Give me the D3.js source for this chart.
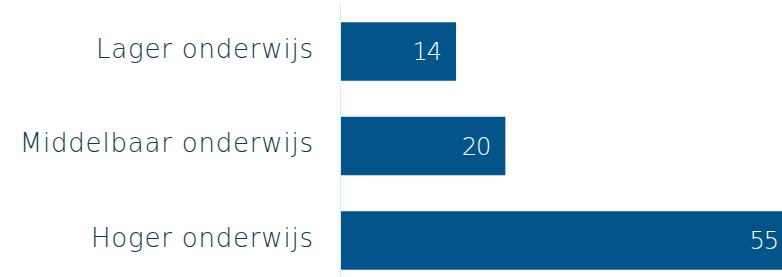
<!DOCTYPE html>
<html>
<head>
<meta charset="utf-8">
<script src="https://cdn.jsdelivr.net/npm/d3@7"></script>
<style>
  body { margin: 0; background: #fff; }
  svg { display: block; }
</style>
</head>
<body>
<div id="chart"></div>
<script>
var width = 782,
    height = 277;

var categories = ["Lager onderwijs", "Middelbaar onderwijs", "Hoger onderwijs"];
var values = [14, 20, 55];

var left = 341;

var x = d3.scaleLinear()
    .domain([0, 55])
    .range([left, left + 452]);

var y = d3.scaleBand()
    .domain(categories)
    .range([8, 284])
    .paddingInner(0.381)
    .paddingOuter(0.151);

var svg = d3.select("#chart").append("svg")
    .attr("width", width)
    .attr("height", height);

var data = categories.map(function(c, i) { return { cat: c, val: values[i] }; });

svg.selectAll(".bar")
    .data(data)
  .enter().append("rect")
    .attr("class", "bar")
    .attr("x", x(0))
    .attr("y", function(d) { return y(d.cat); })
    .attr("width", function(d) { return x(d.val) - x(0); })
    .attr("height", y.bandwidth())
    .attr("fill", "#02548a");

// vertical axis line
svg.append("line")
    .attr("x1", left - 0.5).attr("x2", left - 0.5)
    .attr("y1", 4).attr("y2", height)
    .attr("stroke", "#cdeef3")
    .attr("stroke-width", 1);

svg.selectAll(".cat")
    .data(data)
  .enter().append("text")
    .attr("class", "cat")
    .attr("x", left - 28 + 0.8)
    .attr("y", function(d) { return y(d.cat) + y.bandwidth() / 2; })
    .attr("dy", "0.24em")
    .attr("text-anchor", "end")
    .style("font-family", "'DejaVu Sans', sans-serif")
    .style("font-weight", 200)
    .style("font-size", "26px")
    .style("letter-spacing", "0.8px")
    .style("fill", "#0f3d4a")
    .text(function(d) { return d.cat; });

svg.selectAll(".val")
    .data(data)
  .enter().append("text")
    .attr("class", "val")
    .attr("x", function(d) { return x(d.val) - 16 + 1; })
    .attr("y", function(d) { return y(d.cat) + y.bandwidth() / 2; })
    .attr("dy", "0.36em")
    .attr("text-anchor", "end")
    .style("font-family", "'DejaVu Sans', sans-serif")
    .style("font-weight", 200)
    .style("font-size", "24px")
    .style("letter-spacing", "-1px")
    .style("fill", "#ffffff")
    .text(function(d) { return d.val; });
</script>
</body>
</html>
